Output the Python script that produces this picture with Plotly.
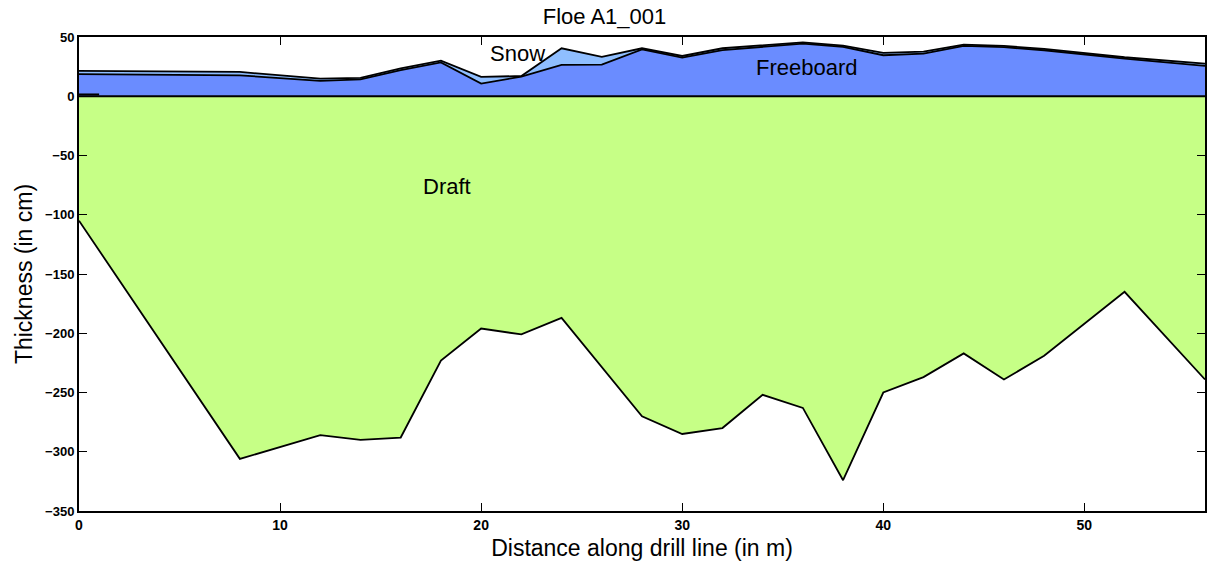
import plotly.graph_objects as go

# Surface profile (freeboard + snow), distance in m, values in cm
x_surf = [0, 8, 12, 14, 16, 18, 20, 22, 24, 26, 28, 30, 32, 34, 36, 38, 40, 42, 44, 46, 48, 52, 56]
freeboard = [18.6, 17.7, 12.9, 14.3, 22.0, 28.5, 10.7, 16.6, 26.4, 26.7, 39.5, 32.6, 39.0, 41.6, 44.4,
             41.6, 34.6, 36.0, 42.5, 41.4, 38.8, 31.8, 25.6]
snow = [2.8, 2.8, 2.0, 1.2, 1.5, 1.5, 5.6, 0.5, 14.1, 6.5, 1.0, 1.4, 1.5, 1.4, 1.1,
        1.2, 2.0, 1.7, 1.1, 1.1, 1.2, 1.1, 2.0]

# Draft profile
x_draft = [0, 8, 12, 14, 16, 18, 20, 22, 24, 28, 30, 32, 34, 36, 38, 40, 42, 44, 46, 48, 52, 56]
draft = [-105, -306, -286, -290, -288, -223, -196, -201, -187, -270, -285, -280, -252, -263, -324,
         -250, -237, -217, -239, -219, -165, -239]

# short marker segment near origin
x_mark = [0, 1]
y_mark = [1.5, 1.5]

x_ticks = [0, 10, 20, 30, 40, 50]
y_ticks = [50, 0, -50, -100, -150, -200, -250, -300, -350]

labels = ["Snow", "Freeboard", "Draft"]
label_x = [21.8, 36.2, 18.3]
label_y = [36, 24, -76]

snow_top = [f + s for f, s in zip(freeboard, snow)]

GREEN = "#C6FF86"
BLUE = "#6A8CFF"
LIGHT = "#8FBEFF"
FONT = "Liberation Sans"

fig = go.Figure()
fig.add_trace(go.Scatter(x=x_draft, y=draft, mode="lines", fill="tozeroy", fillcolor=GREEN,
                         line=dict(color="black", width=1.8), hoverinfo="skip"))
fig.add_trace(go.Scatter(x=x_surf, y=freeboard, mode="lines", fill="tozeroy", fillcolor=BLUE,
                         line=dict(color="black", width=1.8), hoverinfo="skip"))
fig.add_trace(go.Scatter(x=x_surf, y=snow_top, mode="lines", fill="tonexty", fillcolor=LIGHT,
                         line=dict(color="black", width=1.8), hoverinfo="skip"))
fig.add_trace(go.Scatter(x=x_mark, y=y_mark, mode="lines",
                         line=dict(color="black", width=2), hoverinfo="skip"))

fig.add_shape(type="line", xref="paper", x0=0, x1=1, yref="y", y0=0, y1=0,
              line=dict(color="black", width=1.8), layer="above")

for t, xx, yy in zip(labels, label_x, label_y):
    fig.add_annotation(x=xx, y=yy, text=t, showarrow=False,
                       font=dict(family=FONT, size=22, color="black"))

fig.update_layout(
    width=1209, height=564,
    margin=dict(l=79, r=2, t=37, b=53),
    paper_bgcolor="white", plot_bgcolor="white",
    showlegend=False,
    title=dict(text="Floe A1_001", x=0.5, xanchor="center", y=0.985, yanchor="top",
               font=dict(family=FONT, size=22, color="black")),
    font=dict(family=FONT, color="black"),
)
fig.update_xaxes(range=[0, 56], tickvals=x_ticks, ticks="inside", ticklen=8, tickwidth=1,
                 tickcolor="black", showline=True, linecolor="black", linewidth=2, mirror="allticks",
                 showgrid=False, zeroline=False,
                 tickfont=dict(family=FONT, size=14, color="black", weight="bold"),
                 title=dict(text="Distance along drill line (in m)", standoff=8,
                            font=dict(family=FONT, size=23, color="black")))
fig.update_yaxes(range=[-350, 50], tickvals=y_ticks, ticks="inside", ticklen=8, tickwidth=1,
                 tickcolor="black", showline=True, linecolor="black", linewidth=2, mirror="allticks",
                 showgrid=False, zeroline=False,
                 tickfont=dict(family=FONT, size=13, color="black", weight="bold"),
                 title=dict(text="Thickness (in cm)", standoff=6,
                            font=dict(family=FONT, size=23, color="black")))

fig.write_html("out.html")
